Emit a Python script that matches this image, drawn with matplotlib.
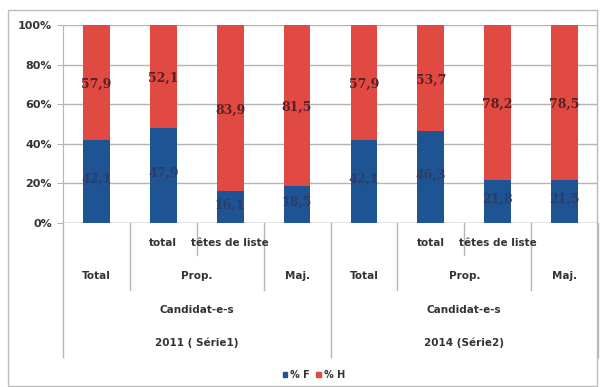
import matplotlib.pyplot as plt
from matplotlib.patches import Patch, Rectangle
import numpy as np

# data
pct_f = [42.1, 47.9, 16.1, 18.5, 42.1, 46.3, 21.8, 21.5]
pct_h = [57.9, 52.1, 83.9, 81.5, 57.9, 53.7, 78.2, 78.5]
sub_labels = ['', 'total', 'têtes de liste', '', '', 'total', 'têtes de liste', '']
type_labels = ['Total', 'Prop.', 'Maj.', 'Total', 'Prop.', 'Maj.']
type_pos = [0, 1.5, 3, 4, 5.5, 7]
groups = ['Candidat-e-s', 'Candidat-e-s']
years = ['2011 ( Série1)', '2014 (Série2)']
group_pos = [1.5, 5.5]
yticks = [0, 20, 40, 60, 80, 100]

blue = '#1f5494'
red = '#e04a42'
grid_col = '#b8b4b2'

fig = plt.figure(figsize=(6.01, 3.87), dpi=100)
ax = fig.add_axes([63 / 601, 1 - 223 / 387, (598 - 63) / 601, (223 - 25) / 387])

x = np.arange(len(pct_f))
ax.bar(x, pct_f, width=0.4, color=blue, zorder=3)
ax.bar(x, pct_h, width=0.4, bottom=pct_f, color=red, zorder=3)

for xi, f, h in zip(x, pct_f, pct_h):
    ax.text(xi, f / 2 + 1, f'{f:.1f}'.replace('.', ','), ha='center', va='center',
            fontsize=9, color='#2a3d66', family='DejaVu Serif', fontweight='bold', zorder=4)
    ax.text(xi, f + h / 2 - 1, f'{h:.1f}'.replace('.', ','), ha='center', va='center',
            fontsize=9, color='#5a2024', family='DejaVu Serif', fontweight='bold', zorder=4)

ax.set_xlim(-0.5, len(pct_f) - 0.5)
ax.set_ylim(0, 100)
ax.set_yticks(yticks)
ax.set_yticklabels([f'{t}%' for t in yticks], fontsize=8, fontweight='bold', color='#333333')
ax.set_xticks([])
ax.yaxis.grid(True, color=grid_col, linewidth=1, zorder=0)
for s in ['top', 'right', 'bottom']:
    ax.spines[s].set_visible(False)
ax.spines['left'].set_color(grid_col)
ax.tick_params(axis='y', length=4, color=grid_col, pad=4)
ax.axhline(0, color=grid_col, linewidth=1, zorder=2)

# hierarchical category axis
trans = ax.get_xaxis_transform()
sep_depth = {-0.5: -0.677, 0.5: -0.338, 1.5: -0.162, 2.5: -0.338, 3.5: -0.677,
             4.5: -0.338, 5.5: -0.162, 6.5: -0.338, 7.5: -0.677}
for sx, d in sep_depth.items():
    ax.plot([sx, sx], [0, d], transform=trans, color=grid_col, linewidth=1, clip_on=False)

lab_kw = dict(transform=trans, ha='center', va='center', fontsize=7.5,
              fontweight='bold', color='#333333', clip_on=False)
for xi, lab in zip(x, sub_labels):
    if lab:
        ax.text(xi, -0.101, lab, **lab_kw)
for xp, lab in zip(type_pos, type_labels):
    ax.text(xp, -0.268, lab, **lab_kw)
for xp, g, yr in zip(group_pos, groups, years):
    ax.text(xp, -0.439, g, **lab_kw)
    ax.text(xp, -0.606, yr, **lab_kw)

# outer border
fig.patches.append(Rectangle((8 / 601, 1 / 387), 589 / 601, 376 / 387, transform=fig.transFigure,
                             fill=False, edgecolor='#bcbcbc', linewidth=1))

handles = [Patch(color=blue, label='% F'), Patch(color=red, label='% H')]
leg = fig.legend(handles=handles, loc='center', bbox_to_anchor=(0.522, 0.031), ncol=2,
                 frameon=False, fontsize=7, handlelength=0.5, handleheight=0.5,
                 handletextpad=0.3, columnspacing=0.6)
for t in leg.get_texts():
    t.set_fontweight('bold')
    t.set_color('#333333')

fig.savefig('out.png', dpi=100)
